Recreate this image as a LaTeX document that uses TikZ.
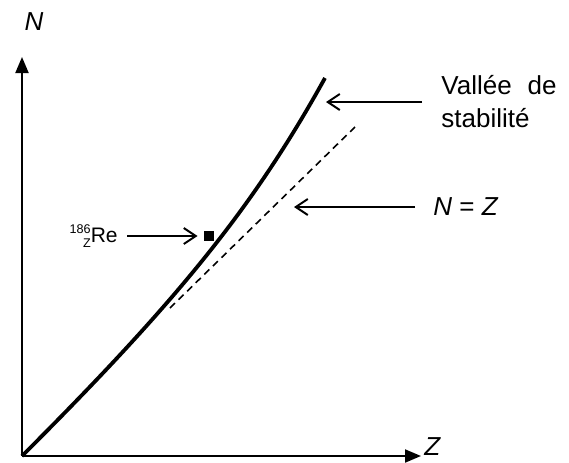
\documentclass[tikz,border=0pt]{standalone}
\usepackage{fontspec}
\setmainfont{Liberation Sans}
\usetikzlibrary{arrows.meta,positioning,calc}
\newcommand{\nuclide}[3]{\raisebox{-2.5pt}{\fontsize{6.3}{7}\selectfont\shortstack[r]{#1\\#2}}#3}

\begin{document}
\begin{tikzpicture}[x=0.5pt,y=-0.5pt,font=\fontsize{13}{16.5}\selectfont,
    axis/.style={line width=1pt,-{Triangle[length=8pt,width=6.5pt]}},
    pointer/.style={line width=1pt,-{Straight Barb[length=6pt,width=8pt]}},
    lbl/.style={inner sep=0pt}]
\useasboundingbox (0,0) rectangle (569,462);
% axes
\coordinate (O) at (22,456);
\coordinate (ytop) at (22,57);
\coordinate (xend) at (421,456);
\draw[axis] (O) -- (ytop);
\draw[axis] (O) -- (xend);
\node[lbl] (Nlab) at (34,22) {\textit{N}};
\node[lbl,anchor=west] (Zlab) at (424,447) {\textit{Z}};
% valley of stability and N = Z
\coordinate (split) at (170,308);
\coordinate (valley-end) at (325,78);
\draw[line width=1.9pt] (O) .. controls (175,303) and (252,210) .. (valley-end);
\draw[line width=0.8pt,dash pattern=on 3.5pt off 2.5pt] (split) -- (355,127);
% labels
\node[lbl,anchor=west,align=left] (valley) at (441,102) {Vallée\hspace{8pt}de\\stabilité};
\coordinate (valley-tip) at (326,102);
\draw[pointer] ([xshift=-9.5pt]valley.west) -- (valley-tip);
\node[lbl,anchor=west] (NZ) at (433,207) {\textit{N} = \textit{Z}};
\coordinate (nz-tip) at (294,207);
\draw[pointer] ([xshift=-9pt]NZ.west) -- (nz-tip);
\node[fill,inner sep=0pt,minimum size=5pt] (rhenium) at (209,236) {};
\node[lbl,anchor=east,font=\fontsize{10.5}{12}\selectfont] (re-lab) at (118,236) {\nuclide{186}{Z}{Re}};
\draw[pointer] ([xshift=4.5pt]re-lab.east) -- ([xshift=-3pt]rhenium.west);
\end{tikzpicture}
\end{document}
